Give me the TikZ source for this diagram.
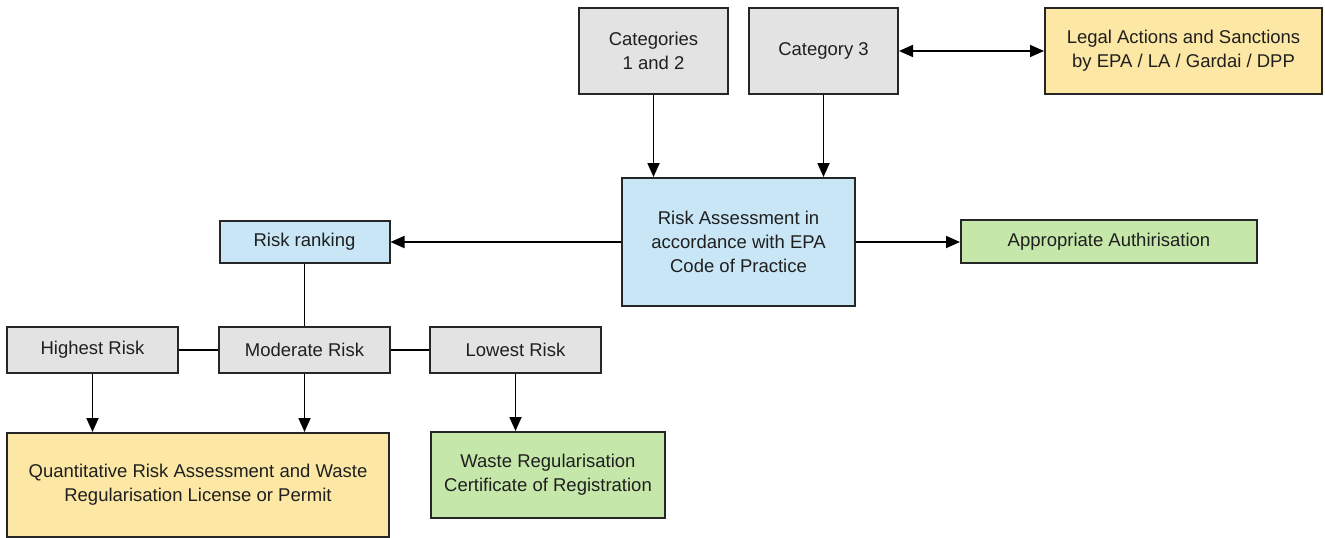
\documentclass[tikz,border=0pt]{standalone}
\usepackage{fontspec}
\setmainfont{Liberation Sans}
\usetikzlibrary{arrows.meta}
\definecolor{gfill}{HTML}{E3E3E3}
\definecolor{bfill}{HTML}{C8E6F6}
\definecolor{yfill}{HTML}{FCE8A4}
\definecolor{grfill}{HTML}{C6E7AA}
\definecolor{edge}{HTML}{262626}
\tikzset{
  box/.style={draw=edge, line width=2pt, align=center, inner sep=2pt,
    text=black!88, font=\fontsize{18.5}{24}\selectfont},
  graybox/.style={box, fill=gfill},
  bluebox/.style={box, fill=bfill},
  yellowbox/.style={box, fill=yfill},
  greenbox/.style={box, fill=grfill},
  conn/.style={draw=black, line width=1.8pt},
  arr/.style={conn, -{Triangle[length=14pt,width=12pt]}},
  darr/.style={conn, {Triangle[length=14pt,width=12pt]}-{Triangle[length=14pt,width=12pt]}},
}
\begin{document}
\begin{tikzpicture}[x=1pt,y=-1pt]
\useasboundingbox (0,0) rectangle (1325,538);
\node[graybox, minimum width=149pt, minimum height=86pt] (cat12) at (653.5,51) {Categories\\1 and 2};
\node[graybox, minimum width=149pt, minimum height=86pt] (cat3) at (823.5,51) {Category 3};
\node[yellowbox, minimum width=277pt, minimum height=86pt] (legal) at (1183.5,51) {Legal Actions and Sanctions\\by EPA / LA / Gardai / DPP};
\node[bluebox, minimum width=233pt, minimum height=128pt] (ra) at (738.5,242) {Risk Assessment in\\accordance with EPA\\Code of Practice};
\node[bluebox, minimum width=170pt, minimum height=42pt] (rank) at (304.5,242) {Risk ranking};
\node[greenbox, minimum width=296pt, minimum height=43pt] (appr) at (1109,241.5) {Appropriate Authirisation};
\node[graybox, minimum width=171pt, minimum height=46pt] (high) at (92.5,350) {Highest Risk};
\node[graybox, minimum width=171pt, minimum height=46pt] (mod) at (304.5,350) {Moderate Risk};
\node[graybox, minimum width=171pt, minimum height=46pt] (low) at (515.5,350) {Lowest Risk};
\node[yellowbox, minimum width=382pt, minimum height=104pt] (quant) at (198,485) {Quantitative Risk Assessment and Waste\\Regularisation License or Permit};
\node[greenbox, minimum width=234pt, minimum height=86pt] (waste) at (548,475) {Waste Regularisation\\Certificate of Registration};

\draw[darr] (cat3.east) -- (legal.west);
\draw[arr] (cat12.south) -- (cat12.south |- ra.north);
\draw[arr] (cat3.south) -- (cat3.south |- ra.north);
\draw[arr] (ra.west) -- (rank.east);
\draw[arr] (ra.east) -- (appr.west |- ra.east);
\draw[conn] (rank.south) -- (mod.north);
\draw[conn] (high.east) -- (mod.west);
\draw[conn] (mod.east) -- (low.west);
\draw[arr] (high.south) -- (high.south |- quant.north);
\draw[arr] (mod.south) -- (mod.south |- quant.north);
\draw[arr] (low.south) -- (low.south |- waste.north);
\end{tikzpicture}
\end{document}
